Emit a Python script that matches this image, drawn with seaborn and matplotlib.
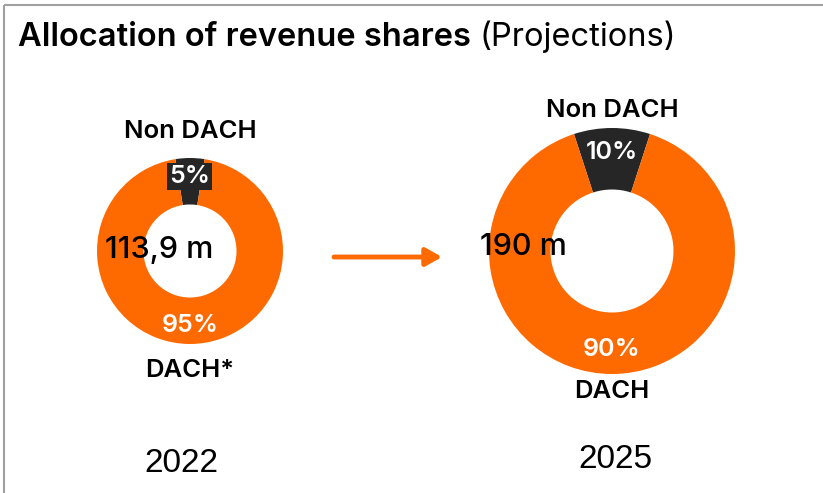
import matplotlib.pyplot as plt
import seaborn as sns

# data
years = ['2022', '2025']
totals = ['113,9 m', '190 m']
shares_2022 = [5, 95]
shares_2025 = [10, 90]
labels_2022 = ['Non DACH', 'DACH*']
labels_2025 = ['Non DACH', 'DACH']

ORANGE = '#ff6a00'
DARK = '#262626'
W, H = 823, 493

sns.set_theme(style='white')
plt.rcParams['font.family'] = ['Inter', 'DejaVu Sans']
plt.rcParams['text.color'] = 'black'

fig = plt.figure(figsize=(W / 100, H / 100), dpi=100)
ax = fig.add_axes([0, 0, 1, 1])


def donut(ax, shares, labels, cx, cy, r, label_dist, bbox_small=False):
    start = 90 - shares[0] * 3.6 / 2
    wedges, texts, pcts = ax.pie(
        shares, labels=labels, colors=[DARK, ORANGE], startangle=start,
        center=(cx, H - cy), radius=r, labeldistance=label_dist,
        autopct='%d%%', pctdistance=0.8,
        wedgeprops=dict(width=r * 0.5, linewidth=0),
        textprops=dict(fontsize=18.5, color='black'))
    for t in texts:
        t.set_ha('center')
        t.set_va('center')
        t.set_fontweight('semibold')
    for p in pcts:
        p.set_color('white')
        p.set_fontsize(18)
        p.set_fontweight('semibold')
    if bbox_small:
        pcts[0].set_bbox(dict(facecolor=DARK, edgecolor='none', pad=1.5))
    return wedges


donut(ax, shares_2022, labels_2022, 190, 251, 93, 1.29, bbox_small=True)
donut(ax, shares_2025, labels_2025, 612, 251, 123, 1.14)

ax.set_xlim(0, W)
ax.set_ylim(0, H)
ax.set_aspect('auto')
ax.axis('off')

# totals, placed left of centre like the original
ax.text(105, H - 250, totals[0], fontsize=22, fontweight='medium',
        ha='left', va='center')
ax.text(480, H - 247, totals[1], fontsize=22, fontweight='medium',
        ha='left', va='center')

# years
ax.text(181, H - 463, years[0], fontsize=24, ha='center', va='center',
        family='Liberation Sans')
ax.text(615, H - 460, years[1], fontsize=24, ha='center', va='center',
        family='Liberation Sans')

# arrow between the donuts
ax.annotate('', xy=(442, H - 257), xytext=(334, H - 257),
            arrowprops=dict(arrowstyle='-|>,head_length=0.8,head_width=0.45',
                            color=ORANGE, lw=3.5, shrinkA=0, shrinkB=0))

# title
t1 = ax.text(18, H - 37, 'Allocation of revenue shares', fontsize=23.5,
             fontweight='semibold', ha='left', va='center')
fig.canvas.draw()
bb = t1.get_window_extent()
ax.text(bb.x1 + 9, H - 37, '(Projections)', fontsize=23.5, ha='left', va='center')

# frame lines (top and left only)
ax.plot([4, W], [H - 5, H - 5], color='#a0a0a0', lw=1.5, solid_capstyle='butt')
ax.plot([4, 4], [H - 5, 0], color='#a0a0a0', lw=1.5, solid_capstyle='butt')

fig.savefig('out.png', dpi=100)
